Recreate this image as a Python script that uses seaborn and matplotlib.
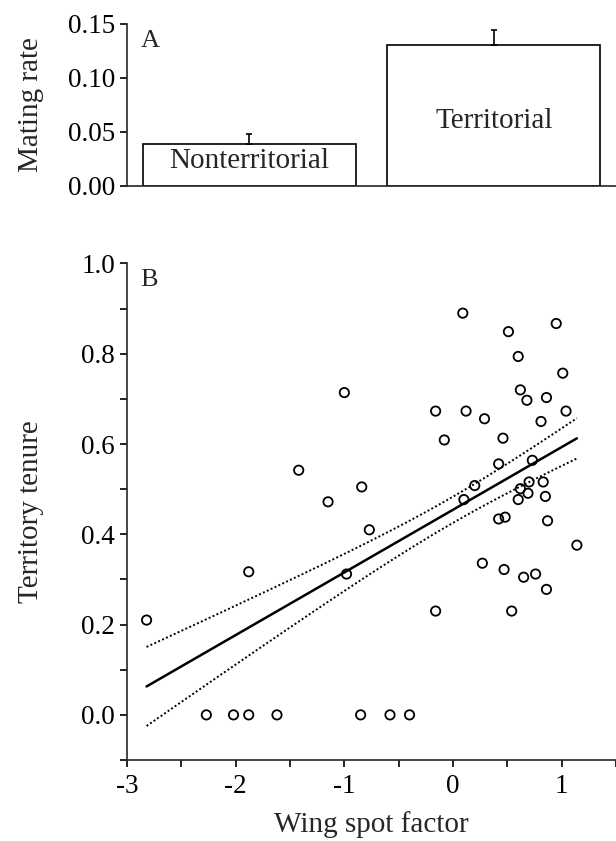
import numpy as np
import pandas as pd
import matplotlib
matplotlib.use("Agg")
import matplotlib.pyplot as plt
import seaborn as sns

# panel A: mating rate by status
status = ["Nonterritorial", "Territorial"]
mating_rate = [0.039, 0.1305]
mating_se = [0.009, 0.014]

# panel B: wing spot factor vs territory tenure
wing_spot = [-2.82, -2.27, -2.02, -1.88, -1.62, -1.88, -1.42, -1.15, -1.00, -0.98,
             -0.85, -0.84, -0.77, -0.58, -0.40, -0.16, -0.16, -0.08, 0.09, 0.10,
             0.12, 0.20, 0.27, 0.29, 0.42, 0.42, 0.46, 0.47, 0.48, 0.51,
             0.54, 0.60, 0.60, 0.62, 0.62, 0.65, 0.68, 0.69, 0.70, 0.73,
             0.76, 0.81, 0.83, 0.85, 0.86, 0.86, 0.87, 0.95, 1.01, 1.04, 1.14]
tenure = [0.210, 0.0, 0.0, 0.0, 0.0, 0.317, 0.542, 0.472, 0.714, 0.312,
          0.0, 0.505, 0.410, 0.0, 0.0, 0.673, 0.230, 0.609, 0.890, 0.477,
          0.673, 0.508, 0.336, 0.656, 0.556, 0.434, 0.613, 0.322, 0.438, 0.849,
          0.230, 0.794, 0.477, 0.501, 0.720, 0.305, 0.697, 0.491, 0.516, 0.564,
          0.312, 0.650, 0.516, 0.484, 0.703, 0.278, 0.430, 0.867, 0.757, 0.673, 0.376]

sns.set_style("ticks")
plt.rcParams['font.family'] = ['Liberation Serif', 'DejaVu Serif']
plt.rcParams['axes.unicode_minus'] = False
plt.rcParams['axes.linewidth'] = 1.2
for k in ['xtick', 'ytick']:
    plt.rcParams[k + '.major.width'] = 1.2
    plt.rcParams[k + '.minor.width'] = 1.2
    plt.rcParams[k + '.major.size'] = 5
    plt.rcParams[k + '.minor.size'] = 5
    plt.rcParams[k + '.labelsize'] = 19.5
    plt.rcParams[k + '.color'] = 'black'
    plt.rcParams[k + '.labelcolor'] = 'black'
plt.rcParams['xtick.major.pad'] = 5

fig = plt.figure(figsize=(6.16, 8.41), dpi=100)
axA = fig.add_axes([0.2062, 0.7792, 0.7938, 0.1923])
axB = fig.add_axes([0.2062, 0.0963, 0.7938, 0.5904])

# --- panel A
dfA = pd.DataFrame({"status": status, "rate": mating_rate})
sns.barplot(data=dfA, x="status", y="rate", width=0.872, color="white",
            edgecolor="black", linewidth=1.2, errorbar=None, ax=axA)
for p in axA.patches:
    p.set_facecolor("white")
axA.errorbar(x=[0, 1], y=mating_rate, yerr=[[0, 0], mating_se], fmt="none",
             ecolor="black", elinewidth=1.2, capsize=2.2, capthick=1.2)
axA.set_xlim(-0.5, 1.5)
axA.set_ylim(0, 0.15)
axA.set_yticks([0, 0.05, 0.10, 0.15])
axA.set_yticklabels(["0.00", "0.05", "0.10", "0.15"])
axA.set_xticks([])
axA.set_xlabel("")
axA.set_ylabel("Mating rate", fontsize=21)
axA.yaxis.set_label_coords(-0.17, 0.5)
axA.text(0, 0.0165, "Nonterritorial", ha="center", va="baseline", fontsize=21)
axA.text(1, 0.0538, "Territorial", ha="center", va="baseline", fontsize=21)
axA.text(0.028, 0.86, "A", transform=axA.transAxes, fontsize=19)
sns.despine(ax=axA)

# --- panel B
dfB = pd.DataFrame({"wing": wing_spot, "tenure": tenure})
sns.scatterplot(data=dfB, x="wing", y="tenure", marker="o", s=45,
                facecolor="none", edgecolor="black", linewidth=1.3, ax=axB, zorder=3)

# least-squares fit with +/- 1 SE band for the mean
x = np.array(wing_spot)
y = np.array(tenure)
n = len(x)
b1, b0 = np.polyfit(x, y, 1)
resid = y - (b0 + b1 * x)
s = np.sqrt(np.sum(resid ** 2) / (n - 2))
sxx = np.sum((x - x.mean()) ** 2)
xs = np.linspace(x.min(), x.max(), 100)
fit = b0 + b1 * xs
half = s * np.sqrt(1 / n + (xs - x.mean()) ** 2 / sxx)
axB.plot(xs, fit, color="black", lw=1.8)
axB.plot(xs, fit + half, color="black", lw=1.4, ls=(0, (1, 1.2)))
axB.plot(xs, fit - half, color="black", lw=1.4, ls=(0, (1, 1.2)))

axB.set_xlim(-3, 1.49)
axB.set_ylim(-0.1, 1.0)
axB.set_xticks([-3, -2, -1, 0, 1])
axB.set_xticks(np.arange(-2.5, 1.6, 1.0), minor=True)
axB.set_yticks([0, 0.2, 0.4, 0.6, 0.8, 1.0])
axB.set_yticklabels(["0.0", "0.2", "0.4", "0.6", "0.8", "1.0"])
axB.set_yticks([-0.1, 0.1, 0.3, 0.5, 0.7, 0.9], minor=True)
axB.set_xlabel("Wing spot factor", fontsize=21, labelpad=8.5)
axB.set_ylabel("Territory tenure", fontsize=21)
axB.yaxis.set_label_coords(-0.17, 0.5)
axB.text(0.028, 0.955, "B", transform=axB.transAxes, fontsize=19)
sns.despine(ax=axB)

fig.savefig("out.png", dpi=100)
